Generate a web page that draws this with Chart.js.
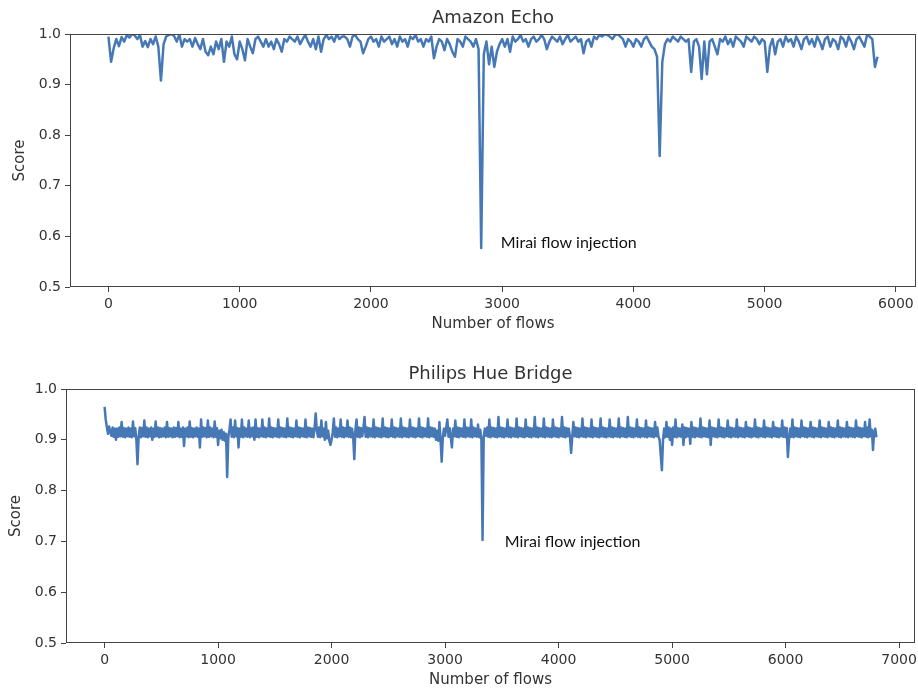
<!DOCTYPE html>
<html><head><meta charset="utf-8">
<script src="https://cdn.jsdelivr.net/npm/chart.js@4.4.1/dist/chart.umd.min.js"></script>
<style>
html,body{margin:0;padding:0;background:#fff;width:918px;height:689px;overflow:hidden;}
#w1{position:absolute;left:0;top:0;width:918px;height:345px;}
#w2{position:absolute;left:0;top:345px;width:918px;height:344px;}
</style></head><body>
<div id="w1"><canvas id="c1"></canvas></div>
<div id="w2"><canvas id="c2"></canvas></div>
<script>
// ---- data ----
const echoStep = 20; // Amazon Echo: one sample every 20 flows
const hueStep = 10;  // Philips Hue: one sample every 10 flows
const echoScores = [
0.995,0.945,0.972,0.99,0.976,0.994,0.985,0.998,0.993,1.0,
0.997,0.99,0.998,0.975,0.986,0.974,0.99,0.98,0.995,0.975,
0.908,0.98,0.995,0.998,1.0,0.996,0.985,0.999,0.975,0.99,
0.985,0.99,0.975,0.992,0.98,0.97,0.99,0.965,0.958,0.975,
0.96,0.985,0.97,0.99,0.945,0.985,0.975,0.995,0.96,0.95,
0.985,0.97,0.948,0.99,0.975,0.962,0.99,0.995,0.985,0.975,
0.99,0.975,0.985,0.97,0.99,0.98,0.965,0.99,0.985,0.995,
0.99,0.985,0.995,0.98,0.99,0.998,0.985,0.975,0.99,0.97,
0.995,0.965,0.99,0.998,0.99,0.995,0.985,1.0,0.99,0.995,
0.995,0.99,0.975,0.995,0.998,0.99,0.985,0.962,0.975,0.99,
0.995,0.985,0.99,0.975,0.995,0.985,0.99,0.995,0.98,0.99,
0.975,0.995,0.985,0.99,0.975,0.995,0.99,0.998,0.985,0.99,
0.975,0.99,0.985,0.995,0.952,0.975,0.99,0.985,0.968,0.99,
0.98,0.965,0.955,0.99,0.985,0.975,0.995,0.99,0.985,0.975,
0.99,0.97,0.577,0.96,0.985,0.94,0.975,0.935,0.965,0.98,
0.99,0.975,0.99,0.965,0.995,0.985,0.99,0.998,0.985,0.99,
0.975,0.99,0.995,0.985,0.99,0.998,0.99,0.97,0.985,0.995,
0.99,0.985,0.995,0.98,0.99,0.998,0.985,0.99,0.995,0.985,
0.99,0.962,0.985,0.99,0.975,0.995,0.99,0.998,0.995,1.0,
0.998,0.995,0.99,0.998,1.0,0.995,0.99,0.975,0.99,0.985,
0.975,0.99,0.985,0.975,0.99,0.995,0.985,0.975,0.97,0.955,
0.759,0.945,0.98,0.99,0.985,0.995,0.99,0.985,0.995,0.99,
0.985,0.99,0.925,0.985,0.99,0.975,0.911,0.985,0.92,0.985,
0.99,0.975,0.96,0.99,0.985,0.995,0.98,0.99,0.975,0.995,
0.99,0.985,0.975,0.995,0.99,0.985,0.995,0.99,0.98,0.99,
0.985,0.925,0.975,0.99,0.96,0.985,0.99,0.975,0.995,0.985,
0.99,0.975,0.995,0.985,0.97,0.99,0.995,0.98,0.99,0.975,
0.995,0.985,0.97,0.99,0.995,0.975,0.99,0.985,0.97,0.995,
0.99,0.975,0.995,0.985,0.97,0.99,0.995,0.985,0.975,0.998,
0.995,0.99,0.935,0.955
];
const hueScores = [
0.965,0.94,0.925,0.912,0.926,0.915,0.908,0.924,0.906,0.922,0.9,0.922,0.906,0.924,0.907,0.935,0.906,0.923,0.905,0.922,
0.907,0.924,0.906,0.922,0.905,0.936,0.907,0.923,0.9,0.852,0.906,0.924,0.905,0.923,0.907,0.938,0.906,0.924,0.905,0.922,
0.907,0.924,0.9,0.922,0.906,0.936,0.907,0.924,0.905,0.923,0.906,0.922,0.907,0.924,0.905,0.935,0.906,0.923,0.907,0.922,
0.905,0.924,0.906,0.923,0.907,0.935,0.905,0.922,0.906,0.924,0.888,0.922,0.907,0.924,0.905,0.936,0.906,0.923,0.905,0.922,
0.907,0.924,0.906,0.922,0.885,0.94,0.906,0.924,0.907,0.923,0.905,0.938,0.906,0.924,0.907,0.922,0.905,0.936,0.906,0.923,
0.89,0.918,0.903,0.92,0.9,0.915,0.898,0.912,0.827,0.905,0.92,0.94,0.906,0.924,0.905,0.938,0.907,0.923,0.885,0.922,
0.906,0.94,0.905,0.924,0.907,0.922,0.906,0.938,0.905,0.923,0.907,0.924,0.9,0.94,0.906,0.923,0.905,0.922,0.907,0.94,
0.906,0.924,0.905,0.922,0.907,0.942,0.906,0.924,0.905,0.923,0.907,0.922,0.906,0.94,0.905,0.924,0.907,0.923,0.906,0.922,
0.905,0.942,0.907,0.924,0.906,0.923,0.905,0.922,0.907,0.938,0.906,0.924,0.905,0.923,0.907,0.922,0.906,0.94,0.905,0.924,
0.907,0.923,0.906,0.922,0.905,0.924,0.952,0.918,0.906,0.924,0.905,0.938,0.907,0.922,0.9,0.935,0.903,0.918,0.898,0.89,
0.9,0.915,0.942,0.906,0.924,0.905,0.922,0.907,0.94,0.906,0.924,0.905,0.923,0.907,0.938,0.906,0.924,0.905,0.922,0.907,
0.862,0.92,0.94,0.906,0.924,0.905,0.923,0.907,0.922,0.945,0.906,0.924,0.905,0.923,0.907,0.922,0.906,0.94,0.905,0.924,
0.907,0.923,0.906,0.922,0.905,0.942,0.907,0.924,0.906,0.923,0.905,0.922,0.907,0.94,0.906,0.924,0.905,0.923,0.907,0.922,
0.906,0.942,0.905,0.924,0.907,0.923,0.906,0.922,0.905,0.94,0.907,0.924,0.906,0.923,0.905,0.922,0.907,0.942,0.906,0.924,
0.905,0.923,0.907,0.922,0.906,0.942,0.905,0.924,0.907,0.923,0.906,0.922,0.9,0.918,0.898,0.935,0.9,0.857,0.905,0.922,
0.908,0.924,0.94,0.906,0.923,0.905,0.885,0.922,0.907,0.938,0.906,0.924,0.905,0.923,0.907,0.922,0.906,0.94,0.905,0.924,
0.907,0.923,0.906,0.94,0.905,0.924,0.907,0.922,0.906,0.93,0.905,0.92,0.9,0.703,0.905,0.922,0.908,0.924,0.906,0.94,
0.905,0.924,0.907,0.923,0.906,0.922,0.905,0.945,0.907,0.924,0.906,0.923,0.905,0.922,0.907,0.94,0.906,0.924,0.905,0.923,
0.907,0.922,0.906,0.942,0.905,0.924,0.907,0.923,0.906,0.922,0.905,0.94,0.907,0.924,0.906,0.923,0.905,0.922,0.907,0.945,
0.906,0.924,0.905,0.923,0.907,0.922,0.906,0.942,0.905,0.924,0.907,0.923,0.906,0.922,0.905,0.94,0.907,0.924,0.906,0.923,
0.905,0.922,0.907,0.945,0.906,0.924,0.905,0.923,0.907,0.922,0.906,0.874,0.905,0.935,0.907,0.924,0.906,0.923,0.905,0.922,
0.907,0.942,0.906,0.924,0.905,0.923,0.907,0.922,0.906,0.94,0.905,0.924,0.907,0.923,0.906,0.922,0.905,0.942,0.907,0.924,
0.906,0.923,0.905,0.922,0.907,0.94,0.906,0.924,0.905,0.923,0.907,0.922,0.906,0.942,0.905,0.924,0.907,0.923,0.906,0.922,
0.905,0.945,0.907,0.924,0.906,0.923,0.905,0.922,0.907,0.94,0.906,0.924,0.905,0.923,0.907,0.922,0.906,0.938,0.905,0.924,
0.907,0.923,0.906,0.922,0.905,0.935,0.907,0.924,0.906,0.9,0.87,0.84,0.9,0.922,0.905,0.935,0.906,0.924,0.9,0.922,
0.89,0.924,0.906,0.94,0.905,0.923,0.907,0.922,0.906,0.93,0.89,0.924,0.905,0.923,0.907,0.922,0.892,0.935,0.906,0.924,
0.905,0.923,0.907,0.922,0.906,0.942,0.905,0.924,0.907,0.923,0.906,0.922,0.905,0.938,0.89,0.924,0.907,0.923,0.906,0.922,
0.905,0.94,0.907,0.924,0.906,0.923,0.905,0.922,0.907,0.938,0.906,0.924,0.905,0.923,0.907,0.922,0.906,0.94,0.905,0.924,
0.907,0.923,0.906,0.922,0.905,0.935,0.907,0.924,0.906,0.923,0.905,0.922,0.907,0.94,0.906,0.924,0.905,0.923,0.907,0.922,
0.906,0.938,0.905,0.924,0.907,0.923,0.906,0.922,0.905,0.935,0.907,0.924,0.906,0.923,0.905,0.922,0.907,0.938,0.906,0.924,
0.905,0.923,0.866,0.9,0.922,0.906,0.94,0.905,0.924,0.907,0.923,0.906,0.922,0.905,0.938,0.907,0.924,0.906,0.923,0.905,
0.922,0.907,0.935,0.906,0.924,0.905,0.923,0.907,0.922,0.906,0.938,0.905,0.924,0.907,0.923,0.906,0.922,0.905,0.935,0.907,
0.924,0.906,0.923,0.905,0.922,0.907,0.938,0.906,0.924,0.905,0.923,0.907,0.922,0.906,0.935,0.905,0.924,0.907,0.923,0.906,
0.922,0.905,0.938,0.907,0.924,0.906,0.923,0.905,0.922,0.907,0.935,0.906,0.924,0.905,0.94,0.907,0.92,0.88,0.915,0.922,
0.905
];
const echoXTicks = [0, 1000, 2000, 3000, 4000, 5000, 6000];
const hueXTicks = [0, 1000, 2000, 3000, 4000, 5000, 6000, 7000];
const scoreTicks = [0.5, 0.6, 0.7, 0.8, 0.9, 1.0];
const echoTitle = 'Amazon Echo';
const hueTitle = 'Philips Hue Bridge';
const xLabel = 'Number of flows';
const yLabel = 'Score';
const noteText = 'Mirai flow injection';
const echoNote = {x: 2990, y: 0.588};
const hueNote = {x: 3525, y: 0.699};

// ---- drawing ----
const LINE = 'rgb(70,120,182)';
const TXT = '#333';
const FONT = "'DejaVu Sans', sans-serif";

const framePlugin = {
  id: 'frame',
  afterDraw(chart) {
    const a = chart.chartArea, ctx = chart.ctx;
    ctx.save();
    ctx.strokeStyle = '#444';
    ctx.lineWidth = 1;
    ctx.strokeRect(Math.round(a.left) + 0.5, Math.round(a.top) + 0.5,
                   Math.round(a.right - a.left) - 1, Math.round(a.bottom - a.top) - 1);
    ctx.restore();
  }
};
const notePlugin = {
  id: 'note',
  afterDatasetsDraw(chart, args, o) {
    const ctx = chart.ctx, x = chart.scales.x, y = chart.scales.y;
    ctx.save();
    ctx.font = o.font;
    ctx.fillStyle = '#111';
    ctx.textAlign = 'left';
    ctx.textBaseline = 'middle';
    ctx.fillText(o.text, x.getPixelForValue(o.x), y.getPixelForValue(o.y));
    ctx.restore();
  }
};

function build(canvasId, scores, step, cfg) {
  const pts = scores.map((v, i) => ({x: i * step, y: v}));
  return new Chart(document.getElementById(canvasId), {
    type: 'line',
    data: {datasets: [{data: pts, borderColor: LINE, borderWidth: 2.5, pointRadius: 0, tension: 0, fill: false, borderJoinStyle: 'round'}]},
    options: {
      responsive: true, maintainAspectRatio: false, animation: false,
      layout: {padding: {left: 0, right: cfg.padRight, top: 0, bottom: 0}},
      plugins: {
        legend: {display: false}, tooltip: {enabled: false},
        title: {display: true, text: cfg.title, fullSize: false, color: TXT,
                font: {family: FONT, size: 18, weight: 'normal'},
                padding: {top: cfg.titleTop, bottom: cfg.titleBottom}},
        note: {text: noteText, x: cfg.note.x, y: cfg.note.y, font: '16px Lato'}
      },
      scales: {
        x: {
          type: 'linear', min: cfg.xMin, max: cfg.xMax,
          afterBuildTicks: s => { s.ticks = cfg.xTicks.map(v => ({value: v})); },
          afterFit: s => { s.height = cfg.xHeight; s.paddingLeft = 0; s.paddingRight = 0; },
          grid: {display: true, drawOnChartArea: false, drawTicks: true, tickLength: 5, color: '#444'},
          border: {display: false},
          ticks: {color: TXT, font: {family: FONT, size: 14}, padding: 4, maxRotation: 0, autoSkip: false,
                  callback: v => String(v)},
          title: {display: true, text: xLabel, color: TXT, font: {family: FONT, size: 15},
                  padding: {top: 0, bottom: cfg.xTitleBottom}}
        },
        y: {
          type: 'linear', min: 0.5, max: 1.0,
          afterBuildTicks: s => { s.ticks = scoreTicks.map(v => ({value: v})); },
          afterFit: s => { s.width = cfg.yWidth; s.paddingTop = 0; s.paddingBottom = 0; },
          grid: {display: true, drawOnChartArea: false, drawTicks: true, tickLength: 5, color: '#444'},
          border: {display: false},
          ticks: {color: TXT, font: {family: FONT, size: 14}, padding: 4,
                  callback: v => Number(v).toFixed(1)},
          title: {display: true, text: yLabel, color: TXT, font: {family: FONT, size: 15},
                  padding: {top: cfg.yTitlePad, bottom: 0}}
        }
      }
    },
    plugins: [framePlugin, notePlugin]
  });
}

build('c1', echoScores, echoStep, {
  title: echoTitle, xTicks: echoXTicks, xMin: -293, xMax: 6153,
  padRight: 2, titleTop: 7.2, titleBottom: 5.2, xHeight: 58, xTitleBottom: 12,
  yWidth: 70, yTitlePad: 11, note: echoNote
});
build('c2', hueScores, hueStep, {
  title: hueTitle, xTicks: hueXTicks, xMin: -340, xMax: 7140,
  padRight: 3, titleTop: 18.2, titleBottom: 4.2, xHeight: 46, xTitleBottom: 0,
  yWidth: 66, yTitlePad: 7, note: hueNote
});
</script>
</body></html>
